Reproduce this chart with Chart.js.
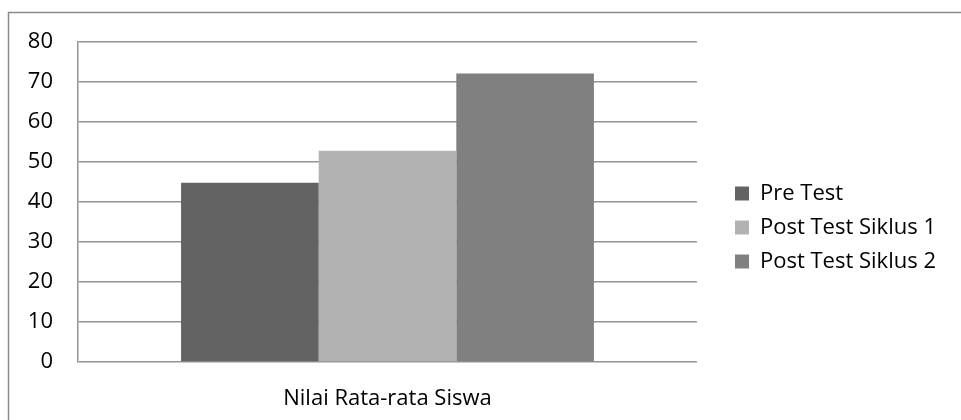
<!DOCTYPE html>
<html>
<head>
<meta charset="utf-8">
<script src="https://cdn.jsdelivr.net/npm/chart.js@4/dist/chart.umd.min.js"></script>
<style>
  html, body { margin: 0; padding: 0; background: #fff; }
  #wrap { width: 961px; height: 420px; position: relative; }
</style>
</head>
<body>
<div id="wrap"><canvas id="nilaiChart"></canvas></div>
<script>
// data
const categories = ['Nilai Rata-rata Siswa'];
const preTest = [44.8];
const postTest1 = [52.8];
const postTest2 = [72.1];
const yTicks = [0, 10, 20, 30, 40, 50, 60, 70, 80];

const gridGray = '#939393';

// outer frame (top and left edges only, like the reference)
const framePlugin = {
  id: 'frame',
  beforeDraw(chart) {
    const c = chart.ctx;
    c.save();
    c.strokeStyle = '#8a8a8a';
    c.lineWidth = 1.5;
    c.beginPath();
    c.moveTo(8.5, 420);
    c.lineTo(8.5, 12.5);
    c.lineTo(961, 12.5);
    c.stroke();
    c.restore();
  }
};

Chart.defaults.font.family = '"Open Sans", "Noto Sans", sans-serif';
Chart.defaults.font.size = 22;
Chart.defaults.color = '#000';

new Chart(document.getElementById('nilaiChart'), {
  type: 'bar',
  data: {
    labels: categories,
    datasets: [
      { label: 'Pre Test', data: preTest, backgroundColor: '#636363' },
      { label: 'Post Test Siklus 1', data: postTest1, backgroundColor: '#b2b2b2' },
      { label: 'Post Test Siklus 2', data: postTest2, backgroundColor: '#808080' }
    ]
  },
  options: {
    responsive: true,
    maintainAspectRatio: false,
    animation: false,
    layout: { padding: { top: 42, bottom: 7, left: 0, right: 15 } },
    datasets: { bar: { categoryPercentage: 0.667, barPercentage: 1 } },
    plugins: {
      tooltip: { enabled: false },
      legend: {
        position: 'right',
        labels: { boxWidth: 14, boxHeight: 14, padding: 12 }
      }
    },
    scales: {
      x: {
        grid: { display: false, drawTicks: false },
        border: { display: false },
        ticks: { padding: 24 },
        afterFit(s) { s.height = 51; }
      },
      y: {
        min: 0,
        max: 80,
        afterBuildTicks(s) { s.ticks = yTicks.map(v => ({ value: v })); },
        grid: { color: gridGray, lineWidth: 1.5, drawTicks: false },
        border: { display: true, color: gridGray, width: 1.5 },
        ticks: { padding: 25 },
        afterFit(s) { s.width = 78; }
      },
      // empty spacer between plot and legend
      gap: {
        position: 'right',
        display: false,
        afterFit(s) { s.width = 26; }
      }
    }
  },
  plugins: [framePlugin]
});
</script>
</body>
</html>
